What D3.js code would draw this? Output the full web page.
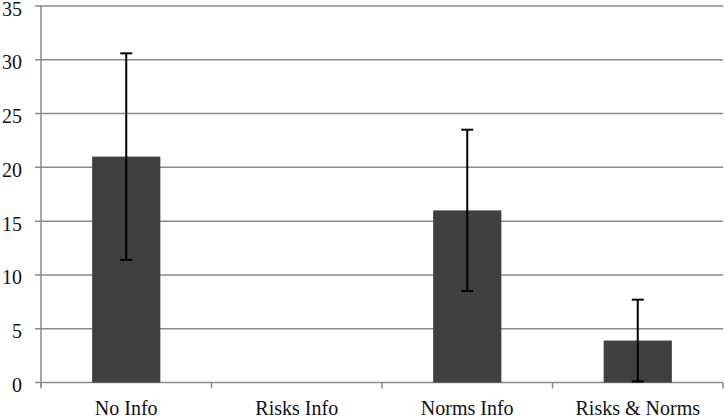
<!DOCTYPE html>
<html><head><meta charset="utf-8">
<script src="https://cdn.jsdelivr.net/npm/d3@7"></script>
<style>body{margin:0;background:#fff}svg{display:block}</style>
</head><body>
<script>
const categories = ["No Info", "Risks Info", "Norms Info", "Risks & Norms"];
const values = [21.0, 0, 16.0, 3.9];
const errors = [9.6, 0, 7.5, 3.8];
const yTicks = [0, 5, 10, 15, 20, 25, 30, 35];

const W = 725, H = 419;
const mLeft = 41, mRight = 723, mTop = 6, mBottom = 382.5;
const svg = d3.select("body").append("svg").attr("width", W).attr("height", H);
const x = d3.scaleBand().domain(categories).range([mLeft, mRight]).paddingInner(0.6).paddingOuter(0.3);
const xb = d3.scaleBand().domain(categories).range([mLeft, mRight]);
const y = d3.scaleLinear().domain([0, 35]).range([mBottom, mTop]);
const font = "Liberation Serif, Times New Roman, serif";

// gridlines
svg.append("g").selectAll("line").data(yTicks).join("line")
  .attr("x1", 35).attr("x2", mRight).attr("y1", d => y(d)).attr("y2", d => y(d))
  .attr("stroke", "#8a8a8a").attr("stroke-width", 1.5);
// y axis line
svg.append("line").attr("x1", mLeft).attr("x2", mLeft).attr("y1", mTop).attr("y2", mBottom + 4)
  .attr("stroke", "#8a8a8a").attr("stroke-width", 1.5);
// x category ticks
const bounds = categories.map(d => xb(d)).concat([mRight]);
svg.append("g").selectAll("line").data(bounds).join("line")
  .attr("x1", d => d).attr("x2", d => d)
  .attr("y1", mBottom).attr("y2", mBottom + 6)
  .attr("stroke", "#8a8a8a").attr("stroke-width", 1.5);
// y labels
svg.append("g").selectAll("text").data(yTicks).join("text")
  .attr("x", 22).attr("y", d => y(d) + 9.5).attr("text-anchor", "end")
  .attr("font-family", font).attr("font-size", 20).attr("fill", "#111").text(d => d);
// bars
svg.append("g").selectAll("rect").data(values).join("rect")
  .attr("x", (d, i) => x(categories[i])).attr("width", x.bandwidth())
  .attr("y", d => y(d)).attr("height", d => y(0) - y(d)).attr("fill", "#404040");
// error bars
const eb = svg.append("g").attr("stroke", "#000").attr("stroke-width", 2);
values.forEach((v, i) => {
  if (errors[i] === 0) return;
  const cx = x(categories[i]) + x.bandwidth() / 2;
  eb.append("line").attr("x1", cx).attr("x2", cx).attr("y1", y(v + errors[i])).attr("y2", y(v - errors[i]));
  [v + errors[i], v - errors[i]].forEach(t => {
    eb.append("line").attr("x1", cx - 6).attr("x2", cx + 6).attr("y1", y(t)).attr("y2", y(t));
  });
});
// x labels
svg.append("g").selectAll("text").data(categories).join("text")
  .attr("x", d => xb(d) + xb.bandwidth() / 2).attr("y", 414.5).attr("text-anchor", "middle")
  .attr("font-family", font).attr("font-size", 20).attr("fill", "#111").text(d => d);
</script>
</body></html>
